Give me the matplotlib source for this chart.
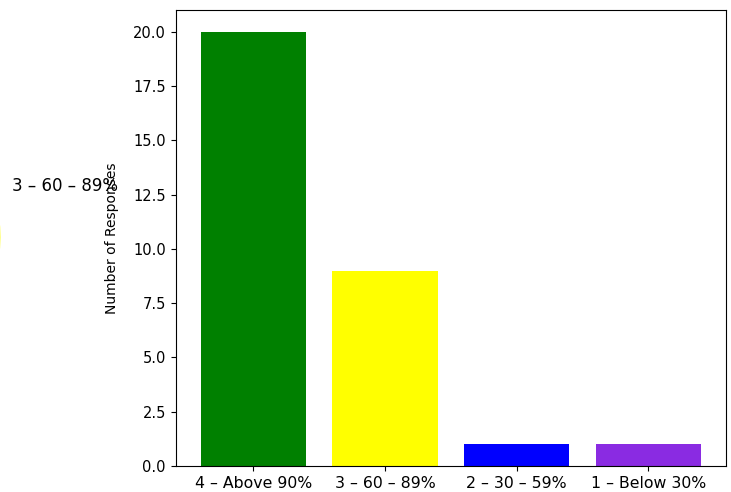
import matplotlib
matplotlib.use("Agg")
import matplotlib.pyplot as plt

categories = ["4 – Above 90%", "3 – 60 – 89%", "2 – 30 – 59%", "1 – Below 30%"]
responses = [20, 9, 1, 1]
colors = ["green", "yellow", "blue", "blueviolet"]

fig = plt.figure(figsize=(7.31, 4.92), dpi=100)

# pie chart mostly cut off on the left side
ax_pie = fig.add_axes([-0.569, 0.0488, 0.633, 0.940])
ax_pie.pie(responses, labels=categories, colors=colors, startangle=90,
           textprops={"fontsize": 12})

# bar chart
ax = fig.add_axes([0.2401, 0.0528, 0.753, 0.927])
ax.bar(categories, responses, color=colors)
ax.set_ylabel("Number of Responses", fontsize=10, labelpad=10)
ax.tick_params(axis="y", labelsize=10.5)
ax.tick_params(axis="x", labelsize=11.3)

fig.savefig("out.png", dpi=100)
